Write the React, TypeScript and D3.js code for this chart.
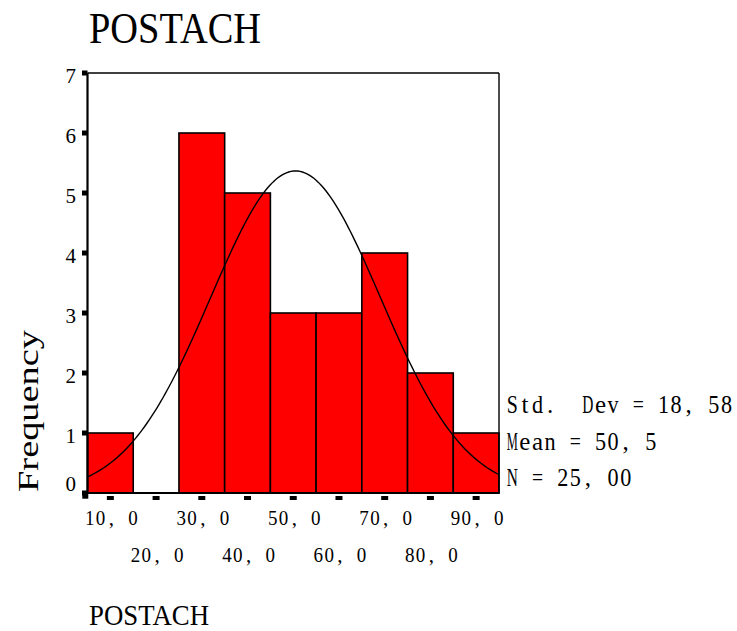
import React from "react";
import * as d3 from "d3";

// histogram of POSTACH
const binCenters = [10, 20, 30, 40, 50, 60, 70, 80, 90];
const frequencies = [1, 0, 6, 5, 3, 3, 4, 2, 1];
const xTickLabels = ["10, 0", "20, 0", "30, 0", "40, 0", "50, 0", "60, 0", "70, 0", "80, 0", "90, 0"];
const yTickValues = [0, 1, 2, 3, 4, 5, 6, 7];
const statLines = ["Std.  Dev = 18, 58", "Mean = 50, 5", "N = 25, 00"];
const stdDev = 18.58;
const mean = 50.5;
const nCases = 25;
const binWidth = 10;

const FONT = "'Liberation Serif', 'DejaVu Serif', serif";

let ctx: CanvasRenderingContext2D | null = null;
function measure(s: string, size: number) {
  if (!ctx) ctx = document.createElement("canvas").getContext("2d");
  if (!ctx) return size * 0.5 * s.length;
  ctx.font = `${size}px 'Liberation Serif'`;
  return ctx.measureText(s).width;
}

// fixed-pitch text: each glyph sits in its own cell, squeezed if too wide
function Mono({ text, x, y, adv, size }: any) {
  const chars = text.split("");
  return (
    <g fontSize={size} fontFamily={FONT} fill="#000">
      {chars.map((c: string, i: number) => {
        if (c === " ") return null;
        const w = measure(c, size);
        const max = adv * 0.88;
        const cx = x + adv * (i + 0.5);
        if (w <= max)
          return (
            <text key={i} x={cx} y={y} textAnchor="middle">
              {c}
            </text>
          );
        return (
          <text key={i} x={cx - max / 2} y={y} textLength={max} lengthAdjust="spacingAndGlyphs">
            {c}
          </text>
        );
      })}
    </g>
  );
}

export default function App() {
  const width = 737;
  const height = 631;

  const x = d3.scaleLinear().domain([5, 95]).range([87.5, 499]);
  const y = d3.scaleLinear().domain([0, 7]).range([493, 73]);

  const pdf = (v: number) =>
    (nCases * binWidth * Math.exp(-0.5 * ((v - mean) / stdDev) ** 2)) / (stdDev * Math.sqrt(2 * Math.PI));
  const curveXs = d3.range(5, 95.01, 0.5);
  const line = d3
    .line<number>()
    .x((d) => x(d))
    .y((d) => y(pdf(d)));

  const labelAdv = 10.8;

  return (
    <svg width={width} height={height} style={{ position: "absolute", left: 0, top: 0, background: "#fff" }}>
      <text x={89} y={42.7} fontSize={44} fontFamily={FONT} textLength={172} lengthAdjust="spacingAndGlyphs">
        POSTACH
      </text>

      {/* bars */}
      {binCenters.map((c, i) =>
        frequencies[i] > 0 ? (
          <rect
            key={c}
            x={x(c - binWidth / 2)}
            y={y(frequencies[i])}
            width={x(c + binWidth / 2) - x(c - binWidth / 2)}
            height={y(0) - y(frequencies[i])}
            fill="#ff0000"
            stroke="#000"
            strokeWidth={1.6}
          />
        ) : null
      )}

      {/* normal curve */}
      <path d={line(curveXs) || ""} fill="none" stroke="#000" strokeWidth={1.4} />

      {/* frame */}
      <line x1={x(5)} x2={x(95)} y1={y(7)} y2={y(7)} stroke="#000" strokeWidth={1.4} />
      <line x1={x(95)} x2={x(95)} y1={y(7)} y2={y(0)} stroke="#000" strokeWidth={1.4} />
      <line x1={x(5)} x2={x(5)} y1={y(7)} y2={y(0) + 1} stroke="#000" strokeWidth={2.2} />
      <line x1={x(5) - 1} x2={x(95) + 0.7} y1={y(0)} y2={y(0)} stroke="#000" strokeWidth={2.2} />

      {/* y ticks and labels */}
      {yTickValues.map((v) => (
        <g key={v}>
          <rect x={82} y={y(v) - 2.5} width={5.5} height={5} fill="#000" />
          <text
            x={76}
            y={Math.min(Math.max(y(v) + 9.5, 81), 490.7)}
            fontSize={21}
            fontFamily={FONT}
            textAnchor="end"
            fill="#000"
          >
            {v}
          </text>
        </g>
      ))}
      <rect x={82.3} y={492.7} width={6} height={6} fill="#000" />

      {/* x ticks and labels */}
      {binCenters.map((c, i) => (
        <g key={c}>
          <rect x={x(c) - 3.5} y={496} width={7} height={4} fill="#000" />
          <Mono
            text={xTickLabels[i]}
            x={x(c) + 1 - (labelAdv * xTickLabels[i].length) / 2}
            y={i % 2 === 0 ? 525 : 561.7}
            adv={labelAdv}
            size={21}
          />
        </g>
      ))}

      {/* axis title */}
      <text
        transform="translate(38,492) rotate(-90)"
        x={0}
        y={0}
        fontSize={29}
        fontFamily={FONT}
        textLength={162}
        lengthAdjust="spacingAndGlyphs"
      >
        Frequency
      </text>

      {/* statistics */}
      {statLines.map((s, i) => (
        <Mono key={s} text={s} x={506} y={413.3 + i * 36.3} adv={12.6} size={25} />
      ))}

      <text x={89} y={625} fontSize={29} fontFamily={FONT} textLength={120} lengthAdjust="spacingAndGlyphs">
        POSTACH
      </text>
    </svg>
  );
}
